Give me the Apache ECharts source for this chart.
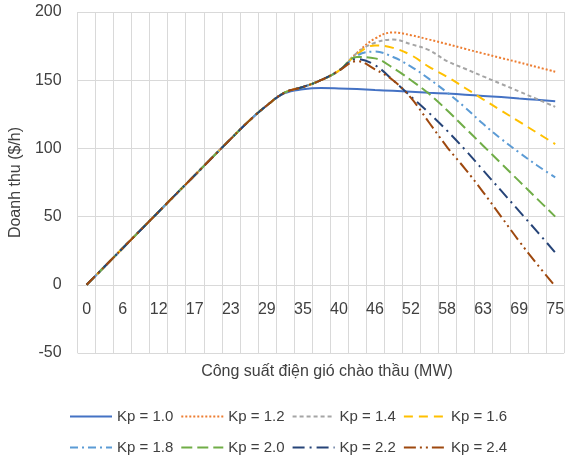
<!DOCTYPE html>
<html><head><meta charset="utf-8">
<script src="https://cdn.jsdelivr.net/npm/echarts@6/dist/echarts.min.js"></script>
<style>html,body{margin:0;padding:0;background:#fff}#c{width:567px;height:459px}</style>
</head><body><div id="c"></div><script>
// Category values (MW); every second one is labelled
const categories = ["0","3","6","9","12","14","17","20","23","26","29","32","35","37","40","43","46","49","52","55","58","61","63","66","69","72","75"];
const yTicks = [-50, 0, 50, 100, 150, 200];
const seriesNames = ["Kp = 1.0","Kp = 1.2","Kp = 1.4","Kp = 1.6","Kp = 1.8","Kp = 2.0","Kp = 2.2","Kp = 2.4"];

const kp10 = [0,13.4,26.8,40.2,53.6,67,80.3,93.7,107,120,131.5,140.5,143.3,144.3,144,143.5,142.8,142.2,141.5,140.8,140.2,139.4,138.5,137.6,136.6,135.6,134.5];
const kp12 = [0,13.4,26.8,40.2,53.6,67,80.3,93.7,107,120,131.5,141,145,150,157,170,180.5,185,183,179.8,176.5,173,169.6,166.3,163,159.6,156.2];
const kp14 = [0,13.4,26.8,40.2,53.6,67,80.3,93.7,107,120,131.5,141,145,150,157,170,177.5,179.8,176.4,172,164,158.4,152.8,147.3,141.7,136.1,130.5];
const kp16 = [0,13.4,26.8,40.2,53.6,67,80.3,93.7,107,120,131.5,141,145,150,157,169,175.5,173.7,168.4,159.8,152.5,144.3,136,127.8,119.6,111.4,103.2];
const kp18 = [0,13.4,26.8,40.2,53.6,67,80.3,93.7,107,120,131.5,141,145,150,157,168,171,167,160,151,141,130,118,107,97,87.5,78.8];
const kp20 = [0,13.4,26.8,40.2,53.6,67,80.3,93.7,107,120,131.5,141,145,150,157,167,166,159,150,140,128,115,102,89,76,63,50];
const kp22 = [0,13.4,26.8,40.2,53.6,67,80.3,93.7,107,120,131.5,141,145,150,157,165.5,161,150,138,126,113,99,84,69,54,39,23.7];
const kp24 = [0,13.4,26.8,40.2,53.6,67,80.3,93.7,107,120,131.5,141,145,150,157,164,158,150,137,119,101,85,68,50,32,15,-1];

const values = [kp10, kp12, kp14, kp16, kp18, kp20, kp22, kp24];
const colors = ["#4472C4","#ED7D31","#A5A5A5","#FFC000","#5B9BD5","#70AD47","#264478","#9E480E"];
const dashes = ["solid",[2,2],[4,3],[9,6],[8,4,2,4],[11,5],[12,5,2,5],[12,4,2,4,2,4]];

const FONT = "Liberation Sans";
const TXT = "#404040";
const GRID = "#d9d9d9";

const legendCommon = {
  left:64, itemWidth:42, itemHeight:14, itemGap:7,
  itemStyle:{opacity:0},
  textStyle:{fontFamily:FONT, fontSize:15, color:TXT}
};

const chart = echarts.init(document.getElementById('c'), null, {renderer:'canvas'});
chart.setOption({
  animation:false,
  backgroundColor:'#fff',
  textStyle:{fontFamily:FONT},
  title:{
    text:'Công suất điện gió chào thầu (MW)',
    left:322, top:359, textAlign:'center',
    textStyle:{fontFamily:FONT, fontSize:16, fontWeight:'normal', color:TXT}
  },
  grid:{left:76, right:-1, top:12, bottom:106, containLabel:false},
  legend:[
    Object.assign({data:seriesNames.slice(0,4), top:404}, legendCommon),
    Object.assign({data:seriesNames.slice(4,8), top:435}, legendCommon)
  ],
  xAxis:{
    type:'category', data:categories, boundaryGap:true,
    offset:-68,
    axisLine:{show:false, onZero:false},
    axisTick:{show:false},
    axisLabel:{interval:1, margin:17, fontSize:16, color:TXT, fontFamily:FONT},
    splitLine:{show:true, interval:0, lineStyle:{color:GRID, width:1}}
  },
  yAxis:{
    type:'value', min:yTicks[0], max:yTicks[yTicks.length-1], interval:50,
    name:'Doanh thu ($/h)', nameLocation:'middle', nameGap:45,
    nameTextStyle:{fontFamily:FONT, fontSize:16, color:TXT},
    axisLine:{show:false}, axisTick:{show:false},
    axisLabel:{margin:16, fontSize:16, color:TXT, fontFamily:FONT},
    splitLine:{show:true, lineStyle:{color:GRID, width:1}}
  },
  series: values.map((v,i)=>({
    name:seriesNames[i], type:'line', data:v, smooth:0.4, symbol:'none',
    color:colors[i],
    lineStyle:{color:colors[i], width:2, type:dashes[i]}
  }))
});
</script></body></html>
